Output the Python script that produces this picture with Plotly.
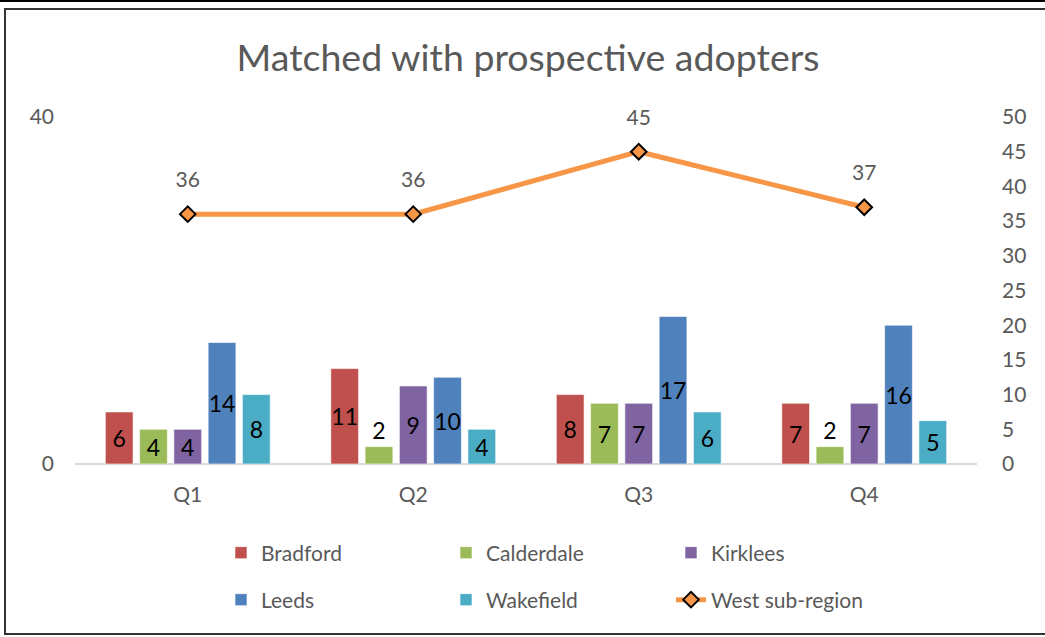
import plotly.graph_objects as go

quarters = ["Q1", "Q2", "Q3", "Q4"]
bradford = [6, 11, 8, 7]
calderdale = [4, 2, 7, 2]
kirklees = [4, 9, 7, 7]
leeds = [14, 10, 17, 16]
wakefield = [8, 4, 6, 5]
west = [36, 36, 45, 37]

FONT = "Lato"
GREY = "#595959"

# plot area in pixels, used to place the frame lines and legends
L, R, T, B = 75, 977, 117, 464
W, H = 1045, 637


def px_x(x):
    return (x - L) / (R - L)


def px_y(y):
    return (B - y) / (B - T)


fig = go.Figure()

bars = [("Bradford", bradford, "#C0504D", "legend"),
        ("Calderdale", calderdale, "#9BBB59", "legend"),
        ("Kirklees", kirklees, "#8064A2", "legend"),
        ("Leeds", leeds, "#4F81BD", "legend2"),
        ("Wakefield", wakefield, "#4BACC6", "legend2")]

for name, vals, col, leg in bars:
    fig.add_trace(go.Bar(
        x=quarters, y=vals, name=name, legend=leg,
        marker=dict(color=col, line=dict(color="rgba(255,255,255,0.6)", width=1)),
        text=vals, textposition="auto", insidetextanchor="middle", textangle=0,
        textfont=dict(family=FONT, size=23, color="black"),
        outsidetextfont=dict(family=FONT, size=23, color="black"),
        cliponaxis=False,
    ))

fig.add_trace(go.Scatter(
    x=quarters, y=west, name="West sub-region", yaxis="y2", legend="legend2",
    mode="lines+markers",
    line=dict(color="#F79646", width=5),
    marker=dict(symbol="diamond", size=12, color="#F79646",
                line=dict(color="black", width=2)),
    cliponaxis=False,
))

# value labels for the line, lifted by a larger invisible marker
fig.add_trace(go.Scatter(
    x=quarters, y=west, yaxis="y2", showlegend=False, hoverinfo="skip",
    mode="markers+text",
    marker=dict(size=33, opacity=0),
    text=west, textposition="top center",
    textfont=dict(family=FONT, size=21, color=GREY),
    cliponaxis=False,
))

shapes = [
    # outer top line
    dict(type="line", xref="paper", yref="paper",
         x0=px_x(0), x1=px_x(W), y0=px_y(1), y1=px_y(1),
         line=dict(color="black", width=2)),
    # inner frame
    dict(type="rect", xref="paper", yref="paper",
         x0=px_x(5), x1=px_x(W + 5), y0=px_y(9), y1=px_y(634),
         line=dict(color="#333333", width=2)),
]

legend_common = dict(orientation="h", xanchor="left", yanchor="middle",
                     entrywidth=180, entrywidthmode="pixels",
                     font=dict(family=FONT, size=21, color=GREY),
                     itemclick=False, bgcolor="rgba(0,0,0,0)")

fig.update_layout(
    width=W, height=H,
    margin=dict(l=L, r=W - R, t=T, b=H - B),
    paper_bgcolor="white", plot_bgcolor="white",
    font=dict(family=FONT, color=GREY),
    title=dict(text="Matched with prospective adopters", x=528 / W, xanchor="center",
               y=1 - 58 / H, yanchor="middle",
               font=dict(family=FONT, size=37.5, color=GREY)),
    barmode="group", bargap=0.24, bargroupgap=0.19,
    xaxis=dict(showgrid=False, showline=False, ticks="",
               tickfont=dict(size=21, color=GREY), ticklabelstandoff=16),
    yaxis=dict(range=[0, 40], dtick=40, showgrid=True, gridcolor="#D9D9D9",
               gridwidth=1, zeroline=True, zerolinecolor="#D9D9D9",
               zerolinewidth=1.5, showline=False, ticks="",
               tickfont=dict(size=21, color=GREY), ticklabelstandoff=20),
    yaxis2=dict(range=[0, 50], dtick=5, overlaying="y", side="right",
                showgrid=False, zeroline=False, showline=False, ticks="",
                tickfont=dict(size=21, color=GREY), ticklabelstandoff=24),
    legend=dict(x=px_x(221), y=px_y(553), **legend_common),
    legend2=dict(x=px_x(221), y=px_y(600), **legend_common),
    uniformtext=dict(minsize=23, mode="show"),
    shapes=shapes,
)

fig.write_html("out.html", config={"displayModeBar": False},
               post_script="document.body.style.margin='0px';")
